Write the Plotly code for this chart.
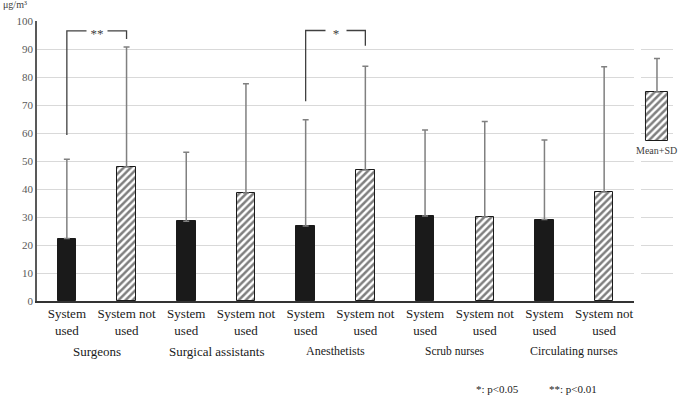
import plotly.graph_objects as go

# ---- data ----
groups = ["Surgeons", "Surgical assistants", "Anesthetists", "Scrub nurses", "Circulating nurses"]
conditions = ["System<br>used", "System not<br>used"]
mean_used = [22.3, 28.5, 26.8, 30.4, 29.1]
sd_top_used = [50.6, 53.1, 64.7, 61.1, 57.5]
mean_not_used = [47.9, 38.6, 46.8, 30.0, 38.9]
sd_top_not_used = [90.7, 77.6, 83.8, 64.1, 83.7]

# significance brackets: group index, left-leg bottom, top, right-leg bottom, label
sig_group = [0, 2]
sig_left_bottom = [59.3, 71.3]
sig_top = [96.5, 96.6]
sig_right_bottom = [93.6, 91.2]
sig_label = ["**", "*"]

# legend sample (Mean+SD)
legend_base = [57.3]
legend_mean = [17.3]
legend_sd = [12.0]

y_ticks = list(range(0, 101, 10))

# ---- derived positions ----
x_used = [2 * i for i in range(len(groups))]
x_not = [2 * i + 1 for i in range(len(groups))]
sd_used = [t - m for t, m in zip(sd_top_used, mean_used)]
sd_not = [t - m for t, m in zip(sd_top_not_used, mean_not_used)]

SERIF = "Liberation Serif, DejaVu Serif, serif"
err_color = "#808080"
hatch = dict(shape="/", fgcolor="#000000", bgcolor="white", size=5, solidity=0.5)
fig = go.Figure()

fig.add_trace(go.Bar(
    x=x_used, y=mean_used, width=0.31,
    marker=dict(color="#1a1a1a", line=dict(color="#1a1a1a", width=1)),
    error_y=dict(type="data", symmetric=False, array=sd_used, arrayminus=[0] * len(sd_used),
                 color=err_color, thickness=1.5, width=3),
    showlegend=False, hoverinfo="skip",
))
fig.add_trace(go.Bar(
    x=x_not, y=mean_not_used, width=0.31,
    marker=dict(color="white", line=dict(color="#1a1a1a", width=1), pattern=hatch),
    error_y=dict(type="data", symmetric=False, array=sd_not, arrayminus=[0] * len(sd_not),
                 color=err_color, thickness=1.5, width=3),
    showlegend=False, hoverinfo="skip",
))

# legend sample bar on its own x axis
fig.add_trace(go.Bar(
    x=[0], y=legend_mean, base=legend_base, width=0.7, xaxis="x2",
    marker=dict(color="white", line=dict(color="#1a1a1a", width=1), pattern=hatch),
    error_y=dict(type="data", symmetric=False, array=legend_sd, arrayminus=[0],
                 color=err_color, thickness=1.5, width=3),
    showlegend=False, hoverinfo="skip",
))

# significance brackets
for g, lb, tp, rb, lab in zip(sig_group, sig_left_bottom, sig_top, sig_right_bottom, sig_label):
    xl, xr = 2 * g, 2 * g + 1
    fig.add_trace(go.Scatter(
        x=[xl, xl, xr, xr], y=[lb, tp, tp, rb], mode="lines",
        line=dict(color="#404040", width=1.3), showlegend=False, hoverinfo="skip",
    ))
    fig.add_annotation(x=(xl + xr) / 2, y=tp, xref="x", yref="y", text=lab, showarrow=False,
                       bgcolor="white", width=20, height=8, borderpad=0, yshift=-2,
                       font=dict(family=SERIF, size=13, color="#404040"))

# group labels
group_sizes = [13, 13, 12, 11.5, 12]
for i, (g, fs) in enumerate(zip(groups, group_sizes)):
    fig.add_annotation(x=2 * i + 0.5, y=-(351 - 301) / 280, xref="x", yref="paper", text=g,
                       showarrow=False, yanchor="middle",
                       font=dict(family=SERIF, size=fs, color="#1a1a1a"))

# unit label
fig.add_annotation(x=-0.012, y=1.0 + 16 / 280, xref="paper", yref="paper", text="μg/m³",
                   showarrow=False, xanchor="right", yanchor="middle",
                   font=dict(family=SERIF, size=10, color="#404040"))
# legend label
fig.add_annotation(x=0, y=legend_base[0], xref="x2", yref="y", text="Mean+SD", showarrow=False,
                   yanchor="top", yshift=-2,
                   font=dict(family=SERIF, size=10, color="#404040"))
# footnotes
fig.add_annotation(x=(474 - 37) / 643, y=-(389 - 301) / 280, xref="paper", yref="paper",
                   text="*: p<0.05", showarrow=False, xanchor="left", yanchor="middle",
                   font=dict(family=SERIF, size=11, color="#1a1a1a"))
fig.add_annotation(x=(547 - 37) / 643, y=-(389 - 301) / 280, xref="paper", yref="paper",
                   text="**: p<0.01", showarrow=False, xanchor="left", yanchor="middle",
                   font=dict(family=SERIF, size=11, color="#1a1a1a"))

tick_vals = x_used + x_not
tick_text = [conditions[0]] * len(x_used) + [conditions[1]] * len(x_not)

fig.update_layout(
    width=685, height=397,
    margin=dict(l=37, r=5, t=21, b=96),
    plot_bgcolor="white", paper_bgcolor="white",
    bargap=0,
    font=dict(family=SERIF),
    xaxis=dict(domain=[0, 597 / 643], range=[-0.5, 9.5], tickvals=tick_vals, ticktext=tick_text,
               showgrid=False, zeroline=False, showline=True, linecolor="#333333", linewidth=1.5,
               ticks="", tickfont=dict(family=SERIF, size=13, color="#1a1a1a")),
    xaxis2=dict(domain=[0.9393, 0.9891], range=[-0.5, 0.5], anchor="y", showgrid=False,
                zeroline=False, showline=False, showticklabels=False, ticks=""),
    yaxis=dict(range=[0, 100], tickvals=y_ticks, showgrid=True, gridcolor="#d9d9d9", gridwidth=1,
               zeroline=False, showline=True, linecolor="#595959", linewidth=1.5, ticks="",
               tickfont=dict(family=SERIF, size=11, color="#595959")),
)

fig.write_html("out.html", config={"displayModeBar": False},
               post_script="document.body.style.margin='0';")
